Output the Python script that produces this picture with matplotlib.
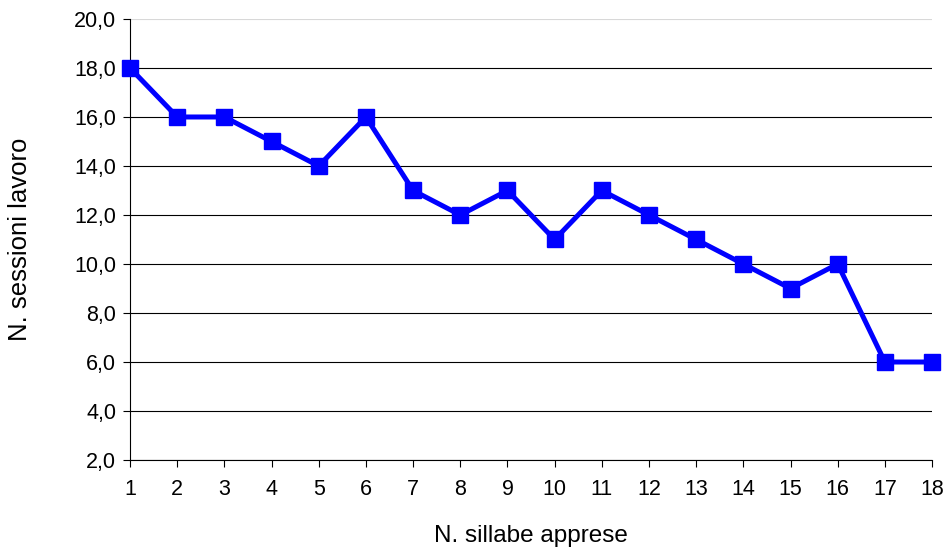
import matplotlib.pyplot as plt
from matplotlib.ticker import FuncFormatter

sillabe = list(range(1, 19))
sessioni = [18, 16, 16, 15, 14, 16, 13, 12, 13, 11, 13, 12, 11, 10, 9, 10, 6, 6]
y_ticks = [2, 4, 6, 8, 10, 12, 14, 16, 18, 20]

plt.rcParams['font.family'] = ['Liberation Sans', 'DejaVu Sans']

fig = plt.figure(figsize=(9.47, 5.5), dpi=100)
ax = fig.add_axes([0.1373, 0.1636, 0.8469, 0.8019])

for t in y_ticks[:-1]:
    ax.axhline(t, color="black", linewidth=0.8, zorder=1)
ax.axhline(20, color="#d8d8d8", linewidth=0.8, zorder=1)

ax.plot(sillabe, sessioni, color="#0000FF", linewidth=3.6, marker="s",
        markersize=12, clip_on=False, zorder=3)

ax.set_xlim(1, 18)
ax.set_ylim(2, 20)
ax.set_xticks(sillabe)
ax.set_yticks(y_ticks)
ax.yaxis.set_major_formatter(FuncFormatter(lambda v, p: f"{v:.1f}".replace(".", ",")))

for s in ["top", "right"]:
    ax.spines[s].set_visible(False)
ax.tick_params(direction="out", length=5, width=0.8, labelsize=15.5)
ax.tick_params(axis="x", pad=9)
ax.tick_params(axis="y", pad=5)

ax.set_xlabel("N. sillabe apprese", fontsize=17.5)
ax.set_ylabel("N. sessioni lavoro", fontsize=18.5)
ax.xaxis.set_label_coords(0.5, -0.148)
ax.yaxis.set_label_coords(-0.122, 0.5)

fig.savefig("out.png", dpi=100)
